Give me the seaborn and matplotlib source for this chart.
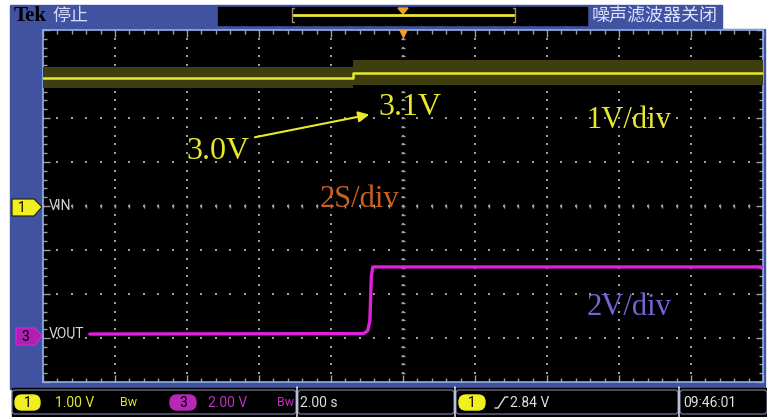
import matplotlib.pyplot as plt
import numpy as np
import pandas as pd
import seaborn as sns
from matplotlib.patches import Rectangle, Polygon, FancyBboxPatch

# 示波器截图: VIN 3.0V -> 3.1V, VOUT 上电
# 时间轴 (s), 触发点为 0, 2 s/div
vin_t = [-10, -1.4, -1.4, 10]
vin_v = [2.91, 2.91, 3.02, 3.02]          # CH1, 1 V/div
vin_lo = [2.68, 2.68, 2.76, 2.76]         # 噪声包络
vin_hi = [3.15, 3.15, 3.32, 3.32]

vout_t = [-8.7, -1.1, -0.98, -0.92, -0.88, -0.84, 10]
vout_v = [0.0, 0.02, 0.15, 0.6, 2.6, 3.05, 3.05]   # CH3, 2 V/div
ch3_zero = -2.91                          # CH3 零点 (div)

ch_scale = ['1.00 V', '2.00 V']
time_scale = '2.00 s'
trig_level = '2.84 V'
clock = '09:46:01'

PANEL = '#4052a0'
YEL = '#e8e82c'
MAG = '#e020e0'
ORANGE = '#f0a020'
GRID = '#a0a098'

sns.set_theme(style='dark')
plt.rcParams['font.family'] = ['Roboto', 'Noto Sans CJK SC', 'DejaVu Sans']

W, H = 767, 417
fig = plt.figure(figsize=(7.67, 4.17), dpi=100)
fig.patch.set_facecolor('white')

# ---- 外框 (像素坐标) ----
bg = fig.add_axes([0, 0, 1, 1], zorder=0)
bg.set_xlim(0, W)
bg.set_ylim(H, 0)
bg.axis('off')

bg.add_patch(Rectangle((10, 5), 712, 24, color=PANEL))
bg.add_patch(Rectangle((10, 29), 755, 360, color=PANEL))
bg.text(14, 16, 'Tek', fontsize=15, fontweight='bold', color='black',
        family='Liberation Serif', va='center')
bg.text(52, 16, '停止', fontsize=13, color='#d0daff', family='Noto Sans CJK SC', va='center')
bg.text(592, 16, '噪声滤波器关闭', fontsize=13, color='#dde4ff',
        family='Noto Sans CJK SC', va='center')
bg.add_patch(Rectangle((218, 7), 369, 18, color='black'))
bg.plot([293, 514], [14.5, 14.5], color=YEL, lw=2)
bg.plot([294, 292, 292, 294], [8, 8, 22, 22], color='#a08870', lw=1)
bg.plot([513, 515, 515, 513], [8, 8, 22, 22], color='#a08870', lw=1)
bg.add_patch(Polygon([[398, 8], [408, 8], [403, 14]], color=ORANGE))

# 通道标记
bg.add_patch(Polygon([[12, 199], [34, 199], [42, 207], [34, 216], [12, 216]],
                     facecolor='#f0f020', edgecolor='#202000', lw=0.8))
bg.text(22, 208, '1', fontsize=10, color='black', ha='center', va='center')
bg.add_patch(Polygon([[16, 328], [35, 328], [42, 336], [35, 345], [16, 345]],
                     facecolor='#b020b0', edgecolor=MAG, lw=0.8))
bg.text(25, 337, '3', fontsize=10, color='black', ha='center', va='center')

# 底部状态栏
bg.add_patch(Rectangle((12, 388), 755, 29, color='black'))
for x0, x1 in [(12, 296), (298, 454), (456, 678), (680, 767)]:
    bg.add_patch(FancyBboxPatch((x0, 390), x1 - x0, 24, boxstyle='round,pad=0,rounding_size=3',
                                facecolor='none', edgecolor='#8088a8', lw=0.8))
for xd in [297, 455, 679]:
    bg.plot([xd, xd], [387, 417], color='#d0d8f0', lw=1.2)
bg.add_patch(FancyBboxPatch((15, 395), 25, 15, boxstyle='round,pad=0,rounding_size=7',
                            color='#f0f020'))
bg.text(27.5, 403, '1', fontsize=10, color='black', ha='center', va='center')
bg.text(55, 403, ch_scale[0], fontsize=10, color=YEL, va='center')
bg.text(120, 403, 'Bw', fontsize=9, color=YEL, va='center')
bg.add_patch(FancyBboxPatch((170, 395), 26, 15, boxstyle='round,pad=0,rounding_size=7',
                            color='#b828b8'))
bg.text(183, 403, '3', fontsize=10, color='black', ha='center', va='center')
bg.text(208, 403, ch_scale[1], fontsize=10, color='#c030c0', va='center')
bg.text(277, 403, 'Bw', fontsize=9, color='#c030c0', va='center')
bg.text(300, 403, time_scale, fontsize=10, color='#e0e0e0', va='center')
bg.add_patch(FancyBboxPatch((459, 395), 26, 15, boxstyle='round,pad=0,rounding_size=7',
                            color='#f0f020'))
bg.text(472, 403, '1', fontsize=10, color='black', ha='center', va='center')
bg.plot([495, 498, 505, 508], [408, 408, 397, 397], color='#e0e0e0', lw=1)
bg.text(510, 403, trig_level, fontsize=10, color='#e0e0e0', va='center')
bg.text(683, 403, clock, fontsize=10, color='#e0e0e0', va='center')

# ---- 屏幕 ----
ax = fig.add_axes([43 / W, 1 - 382 / H, 720 / W, 352 / H], zorder=1)
ax.set_facecolor('black')
ax.set_xlim(-10, 10)
ax.set_ylim(-4, 4)
ax.set_xticks(np.arange(-10, 10.1, 2))
ax.set_xticks(np.arange(-10, 10.1, 0.4), minor=True)
ax.set_yticks(np.arange(-4, 4.1, 1))
ax.set_yticks(np.arange(-4, 4.1, 0.2), minor=True)
ax.tick_params(which='both', direction='in', top=True, right=True, bottom=True, left=True,
               labelbottom=False, labelleft=False, color=GRID, width=1)
ax.tick_params(which='major', length=5)
ax.tick_params(which='minor', length=3)
ax.grid(False)
for s in ax.spines.values():
    s.set_color('#90b0e8')
    s.set_linewidth(1.2)

# 点状网格
ydots = np.arange(-4, 4.01, 0.2)
xdots = np.arange(-10, 10.01, 0.4)
for xv in range(-8, 9, 2):
    ax.scatter(np.full(len(ydots), xv), ydots, s=2.5, marker='s', color=GRID, lw=0)
for yv in range(-3, 4):
    ax.scatter(xdots, np.full(len(xdots), yv), s=2.5, marker='s', color=GRID, lw=0)
ax.scatter(xdots, np.zeros(len(xdots)), s=12, marker='|', color=GRID, lw=1)
ax.scatter(np.zeros(len(ydots)), ydots, s=12, marker='_', color=GRID, lw=1)

# 波形
ax.fill_between(vin_t, vin_lo, vin_hi, color='#3e3e0e', lw=0, zorder=3)
sns.lineplot(x=vin_t, y=vin_v, ax=ax, color=YEL, lw=1.8, sort=False, estimator=None, zorder=4)
vout_div = [v / 2 + ch3_zero for v in vout_v]
sns.lineplot(x=vout_t, y=vout_div, ax=ax, color=MAG, lw=2.4, sort=False, estimator=None, zorder=4)

ax.scatter([0], [3.9], marker='v', s=40, color=ORANGE, lw=0, clip_on=False, zorder=5)
ax.text(-9.85, 0, 'VIN', fontsize=10, color='#d8d8d8', va='center')
ax.text(-9.85, ch3_zero, 'VOUT', fontsize=10, color='#d8d8d8', va='center')

# 标注
serif = 'Liberation Serif'
ax.text(-5.15, 1.23, '3.0V', fontsize=23, color=YEL, family=serif, ha='center', va='center')
ax.text(0.2, 2.25, '3.1V', fontsize=23, color=YEL, family=serif, ha='center', va='center')
ax.annotate('', xy=(-0.86, 2.09), xytext=(-4.19, 1.55),
            arrowprops=dict(arrowstyle='-|>', color=YEL, lw=1.5, mutation_scale=16))
ax.text(6.28, 1.95, '1V/div', fontsize=22, color=YEL, family=serif, ha='center', va='center')
ax.text(-1.2, 0.14, '2S/div', fontsize=22, color='#c8601e', family=serif, ha='center', va='center')
ax.text(6.28, -2.3, '2V/div', fontsize=22, color='#7464d4', family=serif, ha='center', va='center')

fig.savefig('out.png', dpi=100, facecolor=fig.get_facecolor())
